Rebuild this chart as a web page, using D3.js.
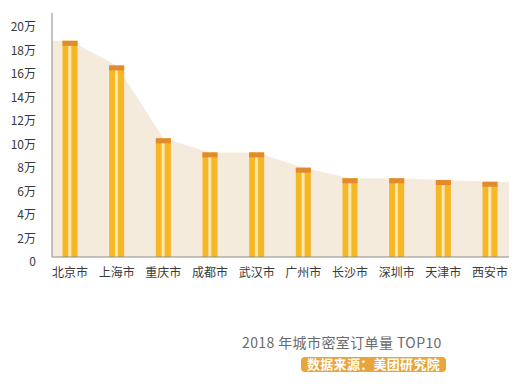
<!DOCTYPE html>
<html>
<head>
<meta charset="utf-8">
<script src="https://cdn.jsdelivr.net/npm/d3@7"></script>
<style>
  body { margin: 0; background: #fff; }
  svg { display: block; font-family: "Noto Sans CJK SC", "Noto Sans", sans-serif; }
</style>
</head>
<body>
<svg id="chart" width="523" height="384"></svg>
<script>
// city names and order counts (unit: 万)
const cities = ["北京市", "上海市", "重庆市", "成都市", "武汉市", "广州市", "长沙市", "深圳市", "天津市", "西安市"];
const orders = [18.4, 16.3, 10.1, 8.9, 8.9, 7.6, 6.7, 6.7, 6.55, 6.4];
const yTicks = [0, 2, 4, 6, 8, 10, 12, 14, 16, 18, 20];

const svg = d3.select("#chart");
const data = cities.map((c, i) => ({city: c, value: orders[i]}));

const x = d3.scalePoint().domain(cities).range([70, 490]);
const y = d3.scaleLinear().domain([0, 20]).range([257, 22]);
const left = 52, right = 509;

// background area through the bar tops
const areaPts = [[left, data[0].value]]
    .concat(data.map(d => [x(d.city), d.value]))
    .concat([[right, data[data.length - 1].value]]);
svg.append("path")
    .datum(areaPts)
    .attr("fill", "#f5ebdc")
    .attr("d", d3.area().x(d => d[0]).y0(y(0)).y1(d => y(d[1])));

// bars: two yellow stripes, pale middle, orange cap
const barW = 15, capH = 5;
const bar = svg.append("g").selectAll("g")
    .data(data)
    .join("g")
    .attr("transform", d => `translate(${x(d.city) - barW / 2},0)`);
bar.append("rect")
    .attr("y", d => y(d.value))
    .attr("width", barW)
    .attr("height", d => y(0) - y(d.value))
    .attr("fill", "#f6b726");
bar.append("rect")
    .attr("x", 5.8)
    .attr("y", d => y(d.value))
    .attr("width", 3)
    .attr("height", d => y(0) - y(d.value))
    .attr("fill", "#fde8b0");
bar.append("rect")
    .attr("y", d => y(d.value))
    .attr("width", barW)
    .attr("height", capH)
    .attr("fill", "#e38a2c");

// axes
svg.append("line")
    .attr("x1", left).attr("x2", left)
    .attr("y1", 13).attr("y2", y(0))
    .attr("stroke", "#8a8a8a");
svg.append("line")
    .attr("x1", left).attr("x2", right)
    .attr("y1", y(0)).attr("y2", y(0))
    .attr("stroke", "#8a8a8a");

svg.append("g").selectAll("text")
    .data(yTicks)
    .join("text")
    .attr("x", 36)
    .attr("y", d => y(d) + 9)
    .attr("text-anchor", "end")
    .attr("font-size", 12)
    .attr("fill", "#3a3a3a")
    .text(d => d === 0 ? "0" : d + "万");

svg.append("g").selectAll("text")
    .data(cities)
    .join("text")
    .attr("x", d => x(d))
    .attr("y", 277)
    .attr("text-anchor", "middle")
    .attr("font-size", 12)
    .attr("fill", "#3a3a3a")
    .text(d => d);

// title and source
svg.append("text")
    .attr("x", 242)
    .attr("y", 348)
    .attr("font-size", 14)
    .attr("letter-spacing", 0.4)
    .attr("fill", "#6a6a6a")
    .text("2018 年城市密室订单量 TOP10");

svg.append("rect")
    .attr("x", 301).attr("y", 357)
    .attr("width", 145).attr("height", 15)
    .attr("rx", 4)
    .attr("fill", "#e9a43c");
svg.append("text")
    .attr("x", 373.5)
    .attr("y", 369)
    .attr("text-anchor", "middle")
    .attr("font-size", 13)
    .attr("font-weight", "bold")
    .attr("letter-spacing", 0.3)
    .attr("fill", "#fff")
    .text("数据来源：美团研究院");
</script>
</body>
</html>
